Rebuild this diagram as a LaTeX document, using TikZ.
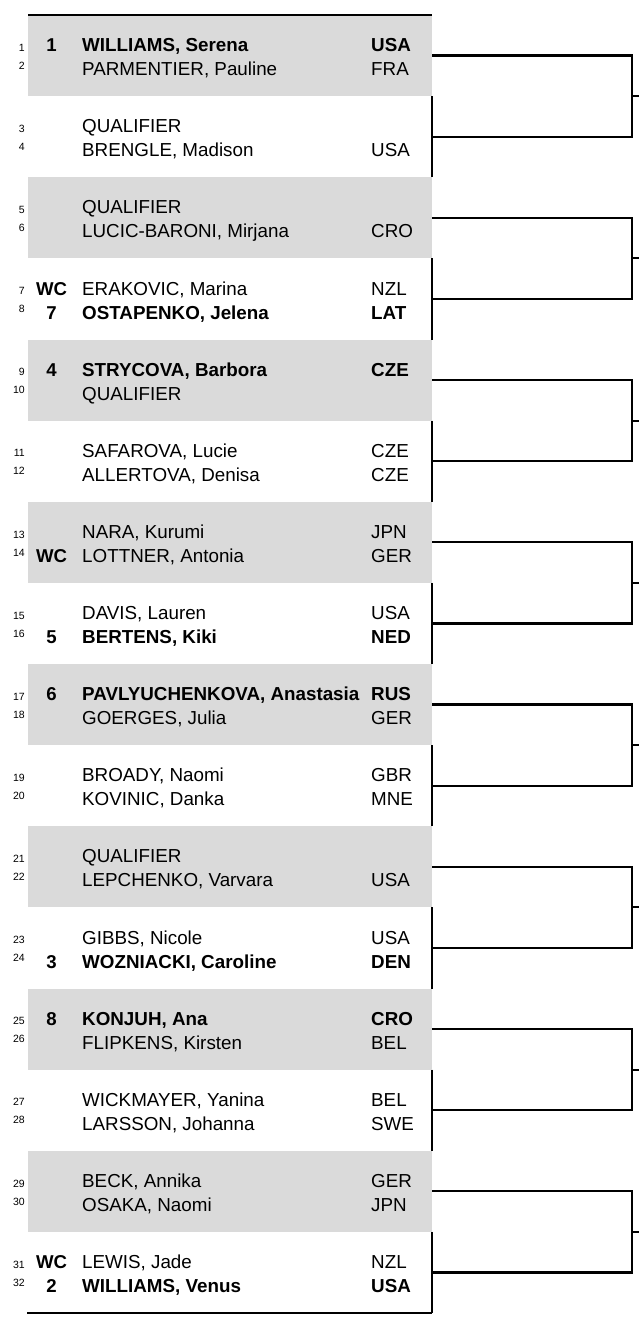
\documentclass[tikz,border=0pt]{standalone}
\usepackage{fontspec}
\setmainfont{Liberation Sans}
\definecolor{rowgray}{HTML}{DADADA}
\tikzset{
  rule/.style={line width=2.2pt},
  num/.style={anchor=base east, inner sep=0pt, font=\fontsize{10.5}{12}\selectfont},
  seed/.style={anchor=base, inner sep=0pt, font=\fontsize{18.6}{22}\selectfont\bfseries},
  player/.style={anchor=base west, inner sep=0pt, font=\fontsize{18.8}{22}\selectfont},
}
\begin{document}
\begin{tikzpicture}[x=1pt, y=-1pt]
    \useasboundingbox (0,0) rectangle (638,1322);
    % shaded pairs
    \foreach \blk in {0,2,...,14}
        \fill[rowgray] (28,{15+81.125*\blk}) rectangle (432,{15+81.125*(\blk+1)});
    % right edge of the white pairs
    \foreach \blk in {1,3,...,15}
        \draw[rule] (432,{15+81.125*\blk}) -- (432,{15+81.125*(\blk+1)});
    \draw[rule] (28,15) -- (432,15);
    \draw[rule] (27,1313) -- (432,1313);
    % draw entries
    \foreach \nr/\sd/\who/\ctry/\wt in {
        1/1/{WILLIAMS, Serena}/USA/\bfseries,
        2//{PARMENTIER, Pauline}/FRA/\mdseries,
        3//QUALIFIER//\mdseries,
        4//{BRENGLE, Madison}/USA/\mdseries,
        5//QUALIFIER//\mdseries,
        6//{LUCIC-BARONI, Mirjana}/CRO/\mdseries,
        7/WC/{ERAKOVIC, Marina}/NZL/\mdseries,
        8/7/{OSTAPENKO, Jelena}/LAT/\bfseries,
        9/4/{STRYCOVA, Barbora}/CZE/\bfseries,
        10//QUALIFIER//\mdseries,
        11//{SAFAROVA, Lucie}/CZE/\mdseries,
        12//{ALLERTOVA, Denisa}/CZE/\mdseries,
        13//{NARA, Kurumi}/JPN/\mdseries,
        14/WC/{LOTTNER, Antonia}/GER/\mdseries,
        15//{DAVIS, Lauren}/USA/\mdseries,
        16/5/{BERTENS, Kiki}/NED/\bfseries,
        17/6/{PAVLYUCHENKOVA, Anastasia}/RUS/\bfseries,
        18//{GOERGES, Julia}/GER/\mdseries,
        19//{BROADY, Naomi}/GBR/\mdseries,
        20//{KOVINIC, Danka}/MNE/\mdseries,
        21//QUALIFIER//\mdseries,
        22//{LEPCHENKO, Varvara}/USA/\mdseries,
        23//{GIBBS, Nicole}/USA/\mdseries,
        24/3/{WOZNIACKI, Caroline}/DEN/\bfseries,
        25/8/{KONJUH, Ana}/CRO/\bfseries,
        26//{FLIPKENS, Kirsten}/BEL/\mdseries,
        27//{WICKMAYER, Yanina}/BEL/\mdseries,
        28//{LARSSON, Johanna}/SWE/\mdseries,
        29//{BECK, Annika}/GER/\mdseries,
        30//{OSAKA, Naomi}/JPN/\mdseries,
        31/WC/{LEWIS, Jade}/NZL/\mdseries,
        32/2/{WILLIAMS, Venus}/USA/\bfseries}
    {
        \pgfmathtruncatemacro\blk{(\nr-1)/2}
        \pgfmathtruncatemacro\ln{mod(\nr-1,2)}
        \pgfmathsetmacro\yy{15+81.125*\blk+36.7+24*\ln}
        \pgfmathsetmacro\ys{15+81.125*\blk+36.3+18*\ln}
        \node[num] (n\nr) at (25,\ys) {\nr};
        \node[seed] (s\nr) at (51.5,\yy) {\sd};
        \node[player] (p\nr) at (82,\yy) {\wt\who};
        \node[player] (c\nr) at (371,\yy) {\wt\ctry};
    }
    % first round brackets
    \foreach \k in {0,...,7} {
        \pgfmathtruncatemacro\ba{2*\k}
        \pgfmathtruncatemacro\bb{2*\k+1}
        \coordinate (b\ba) at (432,{15+81.125*(\ba+0.5)});
        \coordinate (b\bb) at (432,{15+81.125*(\bb+0.5)});
        \coordinate (r\k) at (632,{15+81.125*(\bb)});
        \coordinate (t\k) at (640,{15+81.125*(\bb)});
        \draw[rule] (b\ba) -| (r\k) |- (b\bb);
        \draw[rule] (r\k) -- (t\k);
    }
\end{tikzpicture}
\end{document}
